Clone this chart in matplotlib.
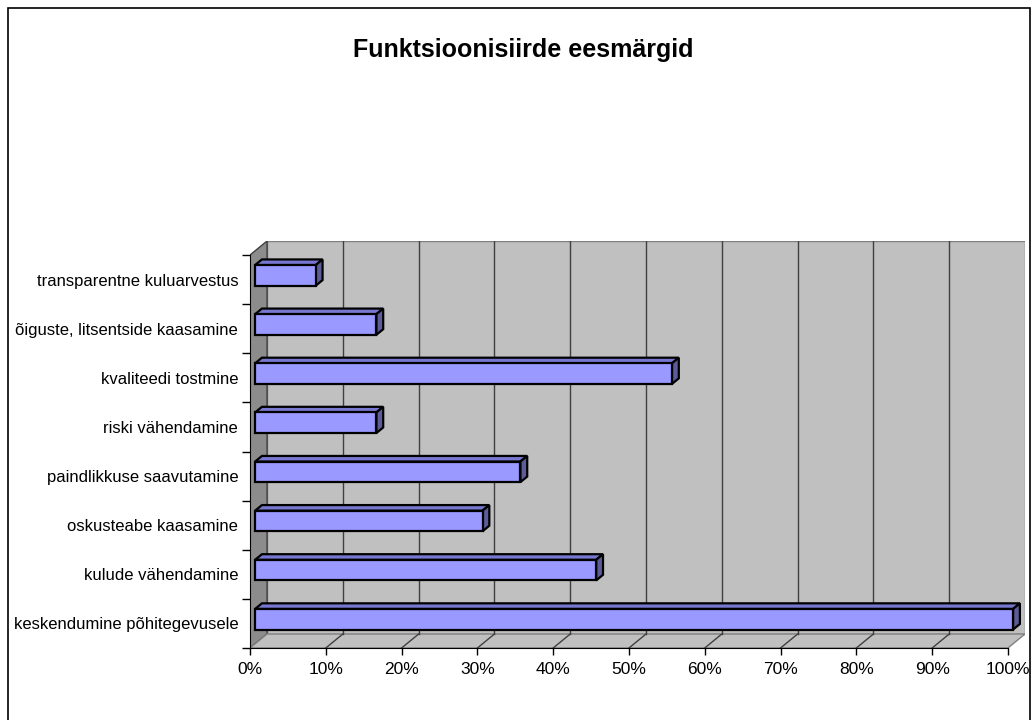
import numpy as np
import matplotlib
matplotlib.use("Agg")
import matplotlib.pyplot as plt
from matplotlib.patches import Polygon, Rectangle

plt.rcParams['font.family'] = ['Liberation Sans', 'DejaVu Sans']

# andmed
title = "Funktsioonisiirde eesmärgid"
categories = [
    "keskendumine põhitegevusele",
    "kulude vähendamine",
    "oskusteabe kaasamine",
    "paindlikkuse saavutamine",
    "riski vähendamine",
    "kvaliteedi tostmine",
    "õiguste, litsentside kaasamine",
    "transparentne kuluarvestus",
]
values = [100, 45, 30, 35, 16, 55, 16, 8]
x_ticks = [0, 10, 20, 30, 40, 50, 60, 70, 80, 90, 100]
x_labels = [f"{t}%" for t in x_ticks]

# 3D nihe (andmeühikutes)
dx = 2.25
dy = 0.285
f1, f2 = 0.3, 0.7       # tulba sügavus
bar_h = 0.42

fig = plt.figure(figsize=(10.33, 7.2), dpi=100)
W, H = 1033, 720
left_px, right_px = 250, 1025
bot_px, top_px = 648, 241
ax = fig.add_axes([left_px / W, 1 - bot_px / H, (right_px - left_px) / W, (bot_px - top_px) / H])
n = len(categories)
ax.set_xlim(0, 100 + dx)
ax.set_ylim(0, n + dy)

# seinad
wall = '#c0c0c0'
ax.add_patch(Polygon([(dx, dy), (100 + dx, dy), (100 + dx, n + dy), (dx, n + dy)],
                     closed=True, facecolor=wall, edgecolor='#808080', lw=1, zorder=0))
ax.add_patch(Polygon([(0, 0), (dx, dy), (dx, n + dy), (0, n)],
                     closed=True, facecolor='#8c8c8c', edgecolor='#404040', lw=1, zorder=0))
ax.add_patch(Polygon([(0, 0), (100, 0), (100 + dx, dy), (dx, dy)],
                     closed=True, facecolor=wall, edgecolor='#808080', lw=1, zorder=0))

# ruudustik
for t in x_ticks[1:-1]:
    ax.plot([t + dx, t + dx], [dy, n + dy], color='#404040', lw=1.0, zorder=1)
    ax.plot([t, t + dx], [0, dy], color='#404040', lw=1.0, zorder=1)

# tulbad
ypos = np.arange(n) + 0.5
front = '#9999ff'
top_c = '#7777d0'
side_c = '#5c5c99'
ax.barh(ypos + f1 * dy, values, height=bar_h, left=f1 * dx,
        color=front, edgecolor='black', lw=1.6, zorder=3)
for y, v in zip(ypos, values):
    x0 = f1 * dx
    x1 = x0 + v
    yb = y + f1 * dy - bar_h / 2
    yt = y + f1 * dy + bar_h / 2
    ddx = (f2 - f1) * dx
    ddy = (f2 - f1) * dy
    ax.add_patch(Polygon([(x0, yt), (x1, yt), (x1 + ddx, yt + ddy), (x0 + ddx, yt + ddy)],
                         closed=True, facecolor=top_c, edgecolor='black', lw=1.6, zorder=2))
    ax.add_patch(Polygon([(x1, yb), (x1 + ddx, yb + ddy), (x1 + ddx, yt + ddy), (x1, yt)],
                         closed=True, facecolor=side_c, edgecolor='black', lw=1.6, zorder=2))

# teljed
for s in ['top', 'right']:
    ax.spines[s].set_visible(False)
ax.spines['left'].set_bounds(0, n)
ax.spines['bottom'].set_bounds(0, 100)
ax.spines['left'].set_zorder(4)
ax.spines['bottom'].set_zorder(4)
ax.set_xticks(x_ticks)
ax.set_xticklabels(x_labels, fontsize=12.5)
ax.tick_params(axis='x', length=5, width=1, pad=5)
ax.set_yticks(ypos)
ax.set_yticklabels(categories, fontsize=12)
ax.set_yticks(np.arange(n + 1), minor=True)
ax.tick_params(axis='y', which='major', length=0, pad=8.5)
ax.tick_params(axis='y', which='minor', length=6, width=1)
ax.patch.set_visible(False)

fig.text(523 / W, 1 - 50 / H, title, ha='center', va='center', fontsize=18, fontweight='bold')
fig.patches.append(Rectangle((8 / W, -0.05), (1030 - 8) / W, 1 - 8 / H + 0.05,
                             transform=fig.transFigure, fill=False, edgecolor='black', lw=1.2))

fig.savefig("out.png", dpi=100)
